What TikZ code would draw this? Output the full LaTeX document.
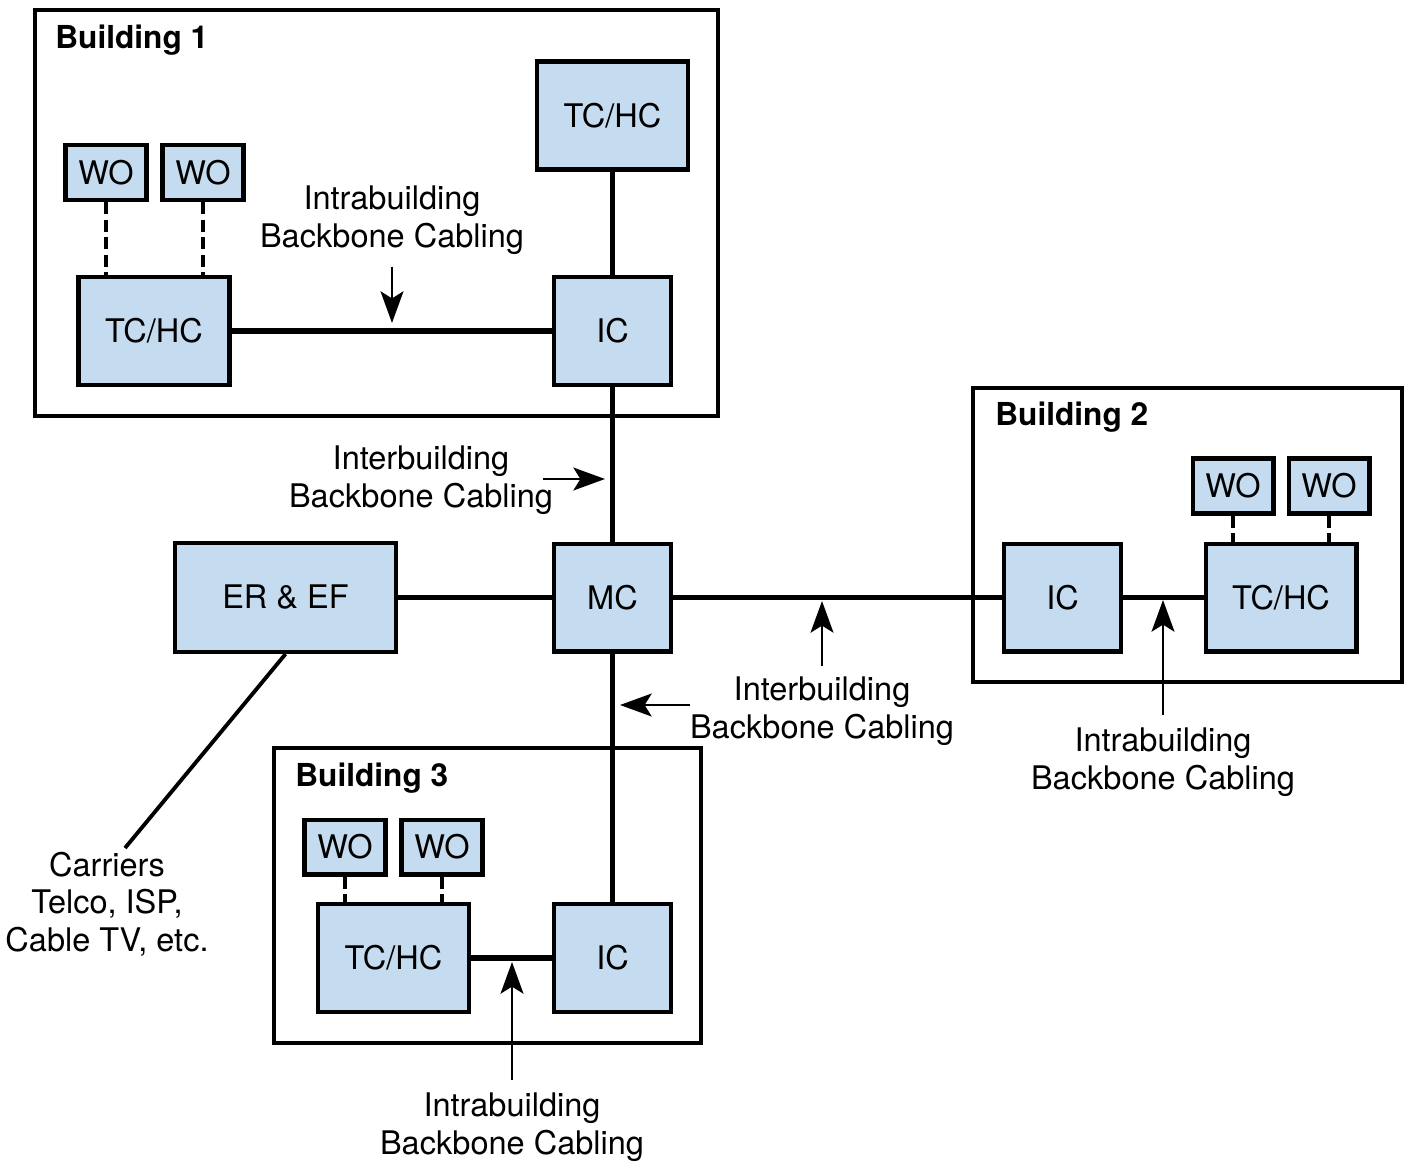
\documentclass[tikz,border=0pt]{standalone}
\usepackage{fontspec}
\setmainfont{TeX Gyre Heros}
\usetikzlibrary{arrows.meta}
\definecolor{boxblue}{HTML}{C5DCF0}
\begin{document}
\begin{tikzpicture}[x=0.02cm, y=-0.02cm]
	\tikzstyle{unit} = [rectangle, draw=black, line width=2.3pt, fill=boxblue, inner sep=0pt,
		font=\fontsize{18.5}{22}\selectfont, text=black]
	\tikzstyle{wo} = [unit, minimum width=1.62cm, minimum height=1.1cm]
	\tikzstyle{tchc} = [unit, minimum width=3.02cm, minimum height=2.16cm]
	\tikzstyle{ic} = [unit, minimum width=2.34cm, minimum height=2.16cm]
	\tikzstyle{bldg} = [draw=black, line width=1.9pt]
	\tikzstyle{title} = [anchor=west, inner sep=0pt, font=\fontsize{18}{21}\bfseries\selectfont]
	\tikzstyle{lbl} = [align=center, inner sep=0pt, font=\fontsize{18.5}{21.5}\selectfont, text=black]
	\tikzstyle{cable} = [line width=3.3pt]
	\tikzstyle{patch} = [line width=1.9pt, dash pattern=on 7pt off 3pt]
	\tikzstyle{pointer} = [-{Stealth[length=18pt,width=13pt,inset=4pt]}, line width=1.6pt]
	\useasboundingbox (0,0) rectangle (1408,1164);

	% buildings
	\draw[bldg] (35,10) rectangle (718,416);
	\draw[bldg] (973,388) rectangle (1402,682);
	\draw[bldg] (274,748) rectangle (701,1043);
	\node[title] (B1) at (55,40) {Building 1};
	\node[title] (B2) at (995,417) {Building 2};
	\node[title] (B3) at (295,778) {Building 3};

	% building 1
	\node[wo] (WO1a) at (106,172.5) {WO};
	\node[wo] (WO1b) at (203,172.5) {WO};
	\node[tchc] (TC1) at (154,331) {TC/HC};
	\node[tchc] (TC1top) at (612.5,115.5) {TC/HC};
	\node[ic] (IC1) at (612.5,331) {IC};

	% campus
	\node[ic] (MC) at (612.5,597.5) {MC};
	\node[unit, minimum width=4.42cm, minimum height=2.18cm] (ER) at (285.5,597.5) {ER \& EF};

	% building 2
	\node[wo] (WO2a) at (1233,486) {WO};
	\node[wo] (WO2b) at (1329,486) {WO};
	\node[ic] (IC2) at (1062.5,597.5) {IC};
	\node[tchc] (TC2) at (1281,597.5) {TC/HC};

	% building 3
	\node[wo] (WO3a) at (345,847) {WO};
	\node[wo] (WO3b) at (442,847) {WO};
	\node[tchc] (TC3) at (393.5,958) {TC/HC};
	\node[ic] (IC3) at (612.5,958) {IC};

	% cabling
	\draw[cable] (TC1) -- (IC1);
	\draw[cable] (TC1top) -- (IC1);
	\draw[cable] (IC1) -- (MC);
	\draw[cable] (ER) -- (MC);
	\draw[cable] (MC) -- (IC2);
	\draw[cable] (IC2) -- (TC2);
	\draw[cable] (MC) -- (IC3);
	\draw[cable] (TC3) -- (IC3);
	\foreach \w/\t in {WO1a/TC1, WO1b/TC1, WO2a/TC2, WO2b/TC2, WO3a/TC3, WO3b/TC3}
		\draw[patch] (\w.south) -- (\w.south |- \t.north);

	% carriers
	\node[lbl] (CAR) at (107,904) {Carriers\\Telco, ISP,\\Cable TV, etc.};
	\coordinate (carTop) at (125,848);
	\draw[line width=2.2pt] (ER.south) -- (carTop);

	% labels
	\node[lbl] (L1) at (392,220) {Intrabuilding\\Backbone Cabling};
	\coordinate (p1) at (392,323);
	\draw[pointer] (L1.south) ++(0,12) -- (p1);

	\node[lbl] (L2) at (421,480) {Interbuilding\\Backbone Cabling};
	\coordinate (q2) at (543,479);
	\coordinate (p2) at (605,479);
	\draw[pointer] (q2) -- (p2);

	\node[lbl] (L3) at (822,711) {Interbuilding\\Backbone Cabling};
	\coordinate (p3) at (822,601);
	\draw[pointer] (L3.north) ++(0,-10) -- (p3);

	\coordinate (q4) at (690,705);
	\coordinate (p4) at (620,705);
	\draw[pointer] (q4) -- (p4);

	\node[lbl] (L5) at (1163,762) {Intrabuilding\\Backbone Cabling};
	\coordinate (p5) at (1163,600);
	\draw[pointer] (L5.north) ++(0,-12) -- (p5);

	\node[lbl] (L6) at (512,1127) {Intrabuilding\\Backbone Cabling};
	\coordinate (p6) at (512,962);
	\draw[pointer] (L6.north) ++(0,-12) -- (p6);
\end{tikzpicture}
\end{document}
